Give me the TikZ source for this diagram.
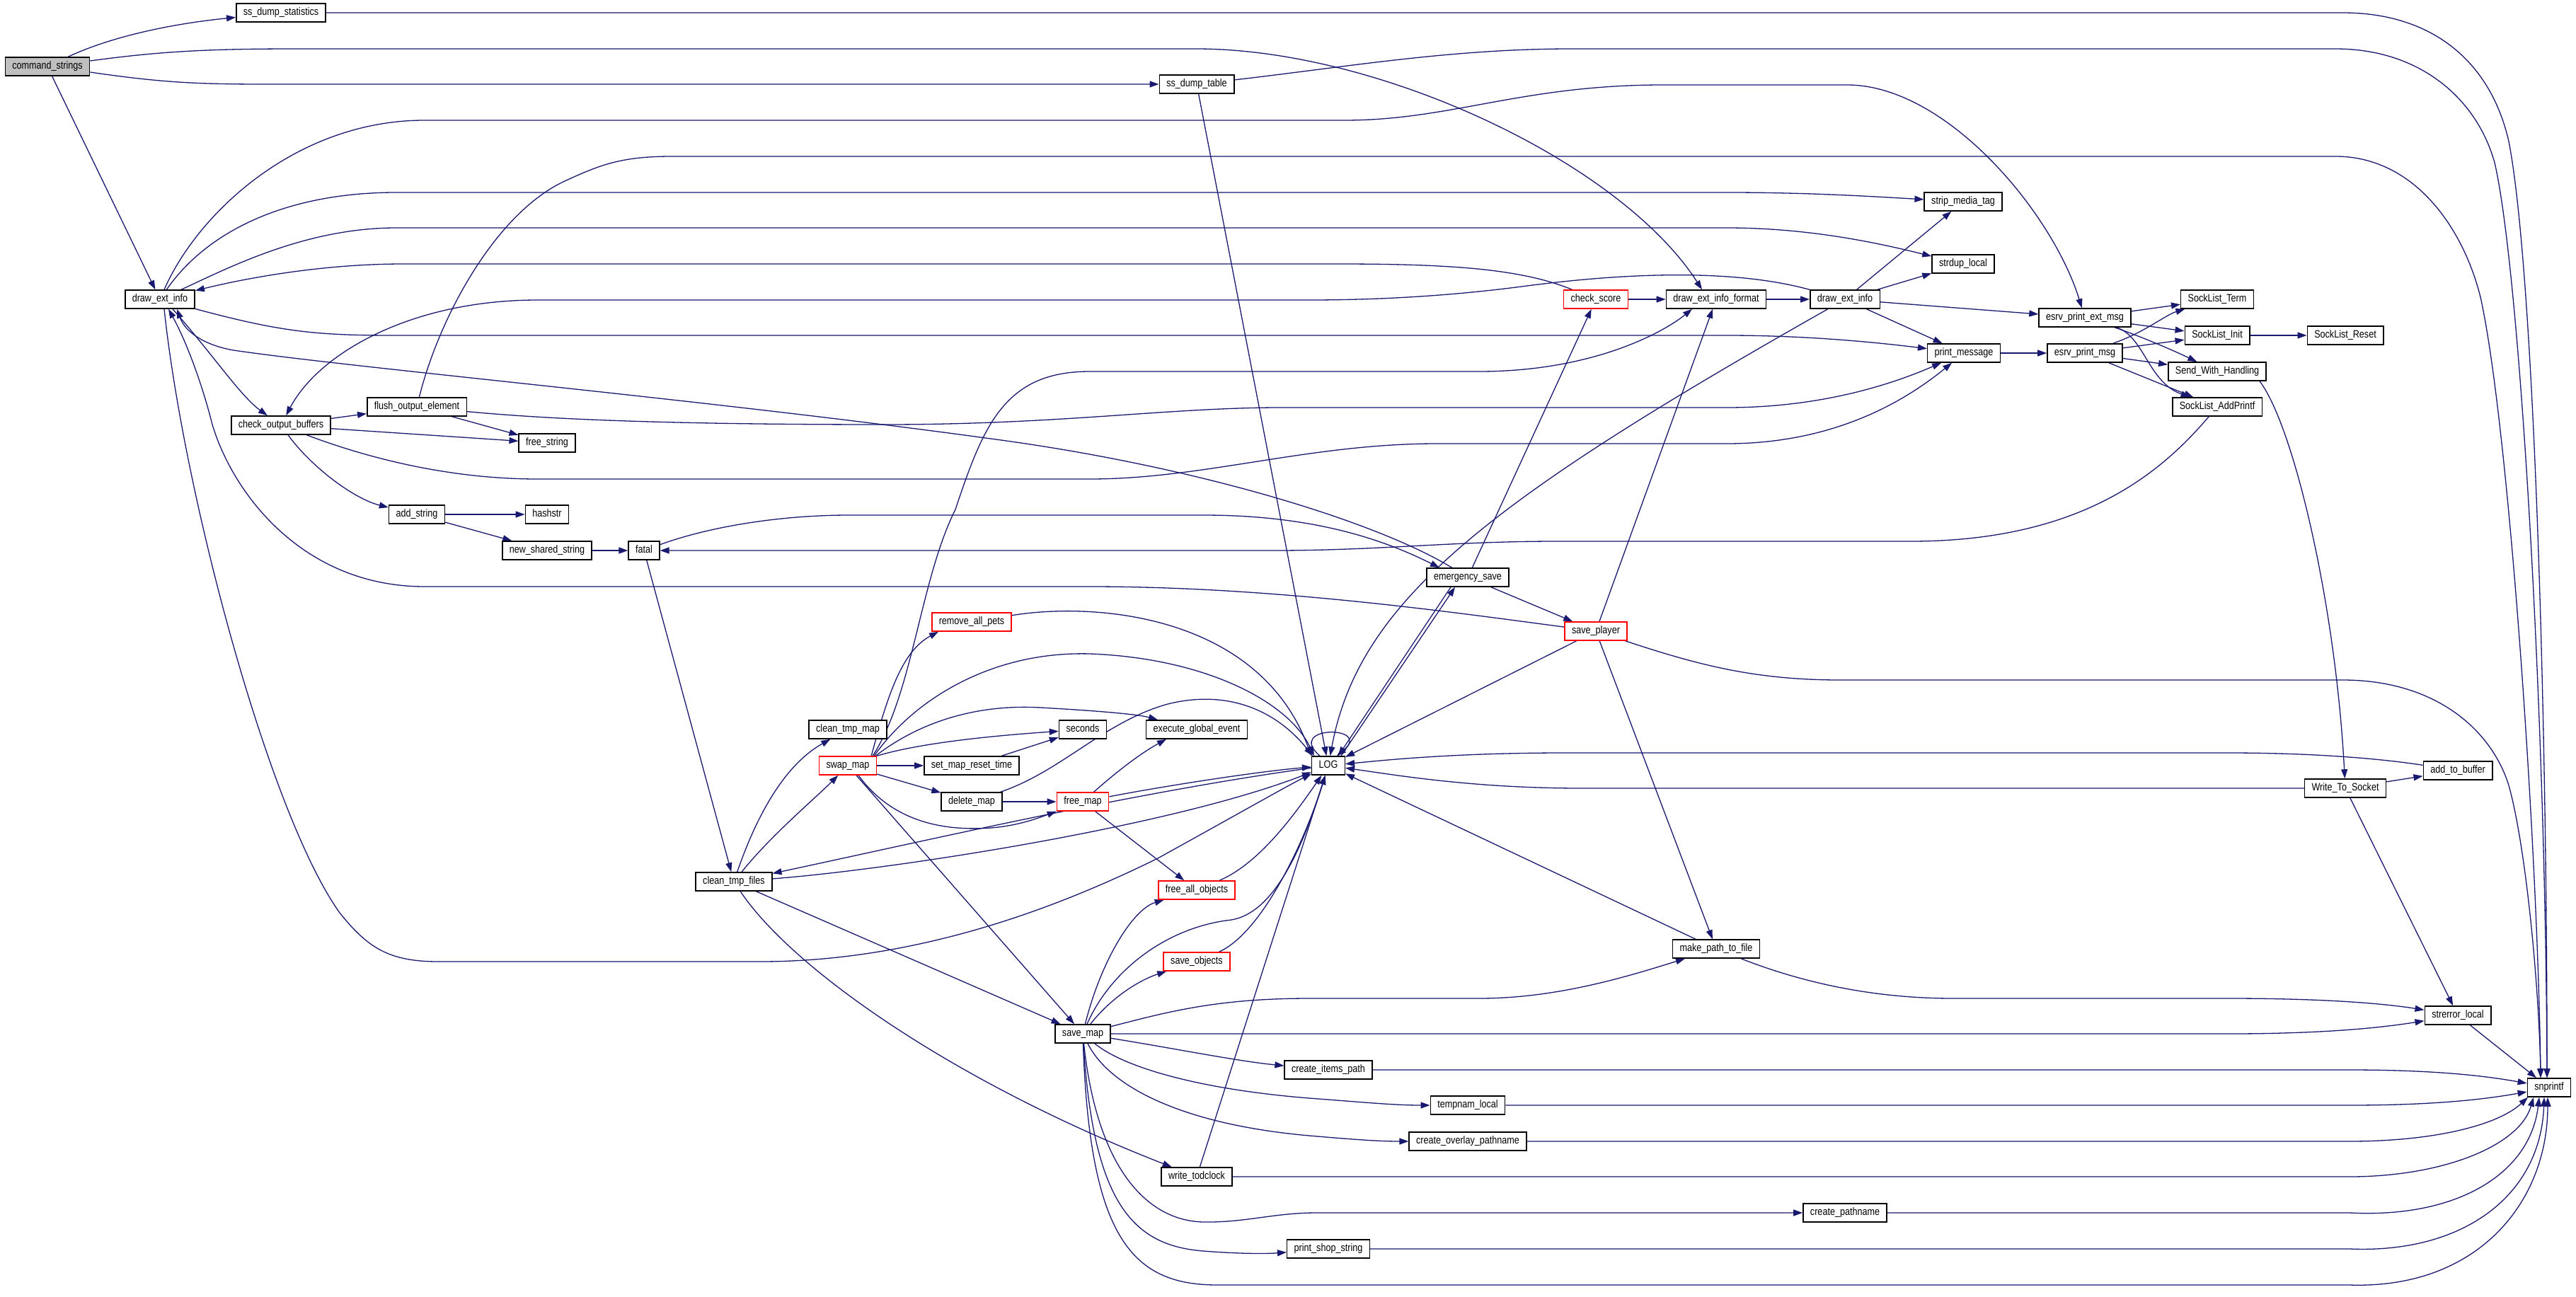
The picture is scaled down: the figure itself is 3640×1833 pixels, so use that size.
\documentclass[tikz,border=0pt]{standalone}
\usepackage{fontspec}
\setmainfont{Liberation Sans}[FakeStretch=0.84]
\usetikzlibrary{arrows.meta}
\definecolor{edgec}{HTML}{191970}
\definecolor{grayf}{HTML}{BFBFBF}
\pgfdeclarelayer{back}
\pgfdeclarelayer{bg}
\pgfsetlayers{back,bg,main}
\tikzset{
  fn/.style={draw=black, line width=1.5pt, fill=white, font=\fontsize{15}{18}\selectfont,
    inner xsep=10pt, inner ysep=0pt, minimum height=26pt, text height=11pt, text depth=3.5pt},
  fnr/.style={fn, draw=red},
  fng/.style={fn, fill=grayf},
  e/.style={draw=edgec, line width=1.3pt, -{Triangle[length=13pt,width=9pt]}},
}
\begin{document}
\begin{tikzpicture}[x=1pt,y=-1pt]
\useasboundingbox (0,0) rectangle (3640,1833);
\begin{pgfonlayer}{back}
\fill[white] (0,0) rectangle (3640,1833);
\end{pgfonlayer}
% nodes
\node[fng] (cs) at (67,94) {command\_strings};
\node[fn] (sds) at (397,18) {ss\_dump\_statistics};
\node[fn] (dei) at (226,423) {draw\_ext\_info};
\node[fn] (cob) at (397,601) {check\_output\_buffers};
\node[fn] (foe) at (589,575) {flush\_output\_element};
\node[fn] (fs) at (773,626) {free\_string};
\node[fn] (as) at (589,727) {add\_string};
\node[fn] (hs) at (773,727) {hashstr};
\node[fn] (nss) at (773,778) {new\_shared\_string};
\node[fn] (fat) at (910,778) {fatal};
\node[fn] (ctf) at (1037,1246) {clean\_tmp\_files};
\node[fn] (ctm) at (1198,1031) {clean\_tmp\_map};
\node[fnr] (sw) at (1198,1082) {swap\_map};
\node[fnr] (rap) at (1373,879) {remove\_all\_pets};
\node[fn] (smrt) at (1373,1082) {set\_map\_reset\_time};
\node[fn] (dm) at (1373,1133) {delete\_map};
\node[fn] (sec) at (1530,1031) {seconds};
\node[fnr] (fm) at (1530,1133) {free\_map};
\node[fn] (sm) at (1530,1461) {save\_map};
\node[fn] (sdt) at (1691,119) {ss\_dump\_table};
\node[fn] (ege) at (1691,1031) {execute\_global\_event};
\node[fnr] (fao) at (1691,1258) {free\_all\_objects};
\node[fnr] (so) at (1691,1359) {save\_objects};
\node[fn] (wt) at (1691,1663) {write\_todclock};
\node[fn] (log) at (1877,1082) {LOG};
\node[fn] (cip) at (1877,1512) {create\_items\_path};
\node[fn] (pss) at (1877,1765) {print\_shop\_string};
\node[fn] (es) at (2074,816) {emergency\_save};
\node[fn] (tl) at (2074,1562) {tempnam\_local};
\node[fn] (cop) at (2074,1613) {create\_overlay\_pathname};
\node[fnr] (csc) at (2255,423) {check\_score};
\node[fnr] (sp) at (2255,892) {save\_player};
\node[fn] (deif) at (2425,423) {draw\_ext\_info\_format};
\node[fn] (mptf) at (2425,1341) {make\_path\_to\_file};
\node[fn] (deir) at (2607,423) {draw\_ext\_info};
\node[fn] (cp) at (2607,1714) {create\_pathname};
\node[fn] (smt) at (2774,285) {strip\_media\_tag};
\node[fn] (sdl) at (2774,373) {strdup\_local};
\node[fn] (pm) at (2775,499) {print\_message};
\node[fn] (epem) at (2946,449) {esrv\_print\_ext\_msg};
\node[fn] (epm) at (2946,499) {esrv\_print\_msg};
\node[fn] (slt) at (3133,423) {SockList\_Term};
\node[fn] (sli) at (3133,474) {SockList\_Init};
\node[fn] (swh) at (3133,525) {Send\_With\_Handling};
\node[fn] (slap) at (3133,575) {SockList\_AddPrintf};
\node[fn] (slr) at (3314,474) {SockList\_Reset};
\node[fn] (wts) at (3314,1114) {Write\_To\_Socket};
\node[fn] (atb) at (3473,1089) {add\_to\_buffer};
\node[fn] (sel) at (3473,1435) {strerror\_local};
\node[fn] (snp) at (3602,1537) {snprintf};
\begin{pgfonlayer}{bg}
% command_strings
\draw[e] (cs) .. controls (150,55) and (230,35) .. (sds);
\draw[e] ([yshift=-8pt]cs.east) .. controls (250,120) and (300,119) .. (420,119) -- (sdt);
\draw[e] ([yshift=8pt]cs.east) .. controls (230,72) and (300,69) .. (420,69) -- (1690,69) .. controls (1950,69) and (2290,230) .. ([xshift=-20pt]deif.north);
\draw[e] (cs) -- (dei);
% ss_dump_statistics / ss_dump_table
\draw[e] (sds) -- (3310,18) .. controls (3440,18) and (3520,90) .. (3545,200) .. controls (3580,380) and (3599,1000) .. ([xshift=-3pt]snp.north);
\draw[e] (sdt) .. controls (1900,95) and (2050,69) .. (2220,69) -- (3300,69) .. controls (3420,69) and (3500,140) .. (3525,230) .. controls (3560,380) and (3597,1000) .. ([xshift=-3pt]snp.north);
\draw[e] (sdt) -- (log);
% draw_ext_info (left)
\draw[e] (dei) .. controls (280,300) and (420,170) .. (600,170) -- (1900,170) .. controls (2050,170) and (2150,120) .. (2350,120) -- (2610,120) .. controls (2750,120) and (2900,300) .. (epem);
\draw[e] (dei) .. controls (290,330) and (400,272) .. (560,272) -- (2440,272) .. controls (2560,272) and (2650,278) .. (smt);
\draw[e] (dei) .. controls (320,380) and (430,322) .. (560,322) -- (2440,322) .. controls (2560,322) and (2660,345) .. (sdl);
\draw[e] (dei) .. controls (400,470) and (450,474) .. (560,474) -- (2440,474) .. controls (2560,474) and (2660,485) .. (pm);
\draw[e] ([xshift=18pt]dei.south) .. controls (300,500) and (340,560) .. (cob);
\draw[e] ([xshift=6pt]dei.south) .. controls (260,700) and (380,1150) .. (480,1290) .. controls (520,1340) and (550,1359) .. (620,1359) -- (1074,1359) .. controls (1300,1359) and (1500,1280) .. (1636,1213) .. controls (1750,1150) and (1820,1110) .. (log);
% check_score, draw_ext_info_format
\draw[e] (csc) .. controls (2150,380) and (2050,373) .. (1890,373) -- (570,373) .. controls (450,373) and (340,395) .. (dei);
\draw[e] (csc) -- (deif);
\draw[e] (deif) -- (deir);
% draw_ext_info (right)
\draw[e] (deir) .. controls (2450,380) and (2300,385) .. (2150,405) .. controls (2050,418) and (1950,424) .. (1850,424) -- (760,424) .. controls (580,424) and (450,500) .. (cob);
\draw[e] (deir) -- (smt);
\draw[e] (deir) -- (sdl);
\draw[e] (deir) -- (epem);
\draw[e] (deir) -- (pm);
\draw[e] (deir) .. controls (2100,710) and (1920,850) .. (log);
% check_output_buffers
\draw[e] (cob) -- (foe);
\draw[e] (cob) -- (fs);
\draw[e] (cob) .. controls (440,660) and (500,705) .. (as);
\draw[e] (cob) .. controls (500,640) and (620,677) .. (760,677) -- (1540,677) .. controls (1700,677) and (1850,627) .. (2030,627) -- (2440,627) .. controls (2600,627) and (2700,560) .. (pm);
% flush_output_element
\draw[e] (foe) -- (fs);
\draw[e] (foe) .. controls (750,590) and (900,600) .. (1250,600) .. controls (1500,600) and (1650,576) .. (1810,576) -- (2440,576) .. controls (2580,576) and (2680,540) .. (pm);
\draw[e] (foe) .. controls (620,450) and (700,300) .. (800,255) .. controls (850,232) and (880,221) .. (950,221) -- (3300,221) .. controls (3410,221) and (3480,320) .. (3505,420) .. controls (3545,600) and (3586,1200) .. ([xshift=-12pt]snp.north);
% add_string, new_shared_string
\draw[e] (as) -- (hs);
\draw[e] (as) -- (nss);
\draw[e] (nss) -- (fat);
% fatal
\draw[e] (fat) .. controls (1000,745) and (1100,728) .. (1200,728) -- (1700,728) .. controls (1850,728) and (1950,760) .. ([xshift=-40pt]es.north);
\draw[e] (fat) -- (ctf);
\draw[e] (slap) .. controls (3060,660) and (2950,765) .. (2700,765) -- (2200,765) .. controls (2050,765) and (1950,778) .. (1800,778) -- (fat);
% emergency_save
\draw[e] (es) .. controls (1950,740) and (1700,660) .. (1400,620) .. controls (1000,565) and (500,520) .. (330,495) .. controls (290,488) and (262,470) .. ([xshift=24pt]dei.south);
\draw[e] (es) -- (sp);
\draw[e] (es) -- (csc);
\draw[e] ([xshift=-24pt]es.south) -- ([xshift=14pt]log.north);
\draw[e] ([xshift=18pt]log.north) -- ([xshift=-18pt]es.south);
% save_player
\draw[e] (sp) .. controls (2050,865) and (1800,829) .. (1540,829) -- (600,829) .. controls (430,829) and (330,700) .. (300,600) .. controls (285,540) and (262,480) .. ([xshift=12pt]dei.south);
\draw[e] (sp) -- (deif);
\draw[e] (sp) -- (log);
\draw[e] (sp) -- (mptf);
\draw[e] (sp) .. controls (2400,940) and (2480,961) .. (2600,961) -- (3310,961) .. controls (3440,961) and (3520,1030) .. (3545,1110) .. controls (3570,1200) and (3588,1400) .. ([xshift=-12pt]snp.north);
% make_path_to_file
\draw[e] (mptf) -- (log);
\draw[e] (mptf) .. controls (2550,1390) and (2650,1411) .. (2760,1411) -- (3150,1411) .. controls (3300,1411) and (3380,1420) .. (sel);
% clean_tmp_files
\draw[e] (ctf) .. controls (1070,1150) and (1110,1080) .. (ctm);
\draw[e] (ctf) .. controls (1090,1180) and (1150,1130) .. (sw);
\draw[e] (ctf) -- (sm);
\draw[e] (ctf) .. controls (1120,1370) and (1350,1530) .. (wt);
\draw[e] (ctf) .. controls (1250,1230) and (1650,1170) .. (log);
\draw[e] (log) .. controls (1600,1120) and (1300,1190) .. (ctf);
% swap_map
\draw[e] ([xshift=-8pt]sw.north east) .. controls (1255,980) and (1275,920) .. ([xshift=10pt]rap.south west);
\draw[e] ([xshift=-6pt]sw.north east) .. controls (1290,980) and (1300,820) .. (1350,720) .. controls (1390,600) and (1420,525) .. (1540,525) -- (2090,525) .. controls (2250,525) and (2350,470) .. ([xshift=-34pt]deif.south);
\draw[e] ([xshift=-4pt]sw.north east) .. controls (1290,990) and (1400,920) .. (1540,924) .. controls (1700,930) and (1820,990) .. ([xshift=-20pt]log.north);
\draw[e] ([xshift=-2pt]sw.north east) .. controls (1300,1020) and (1380,995) .. (1470,1000) .. controls (1560,1005) and (1610,1010) .. ([xshift=-55pt]ege.north);
\draw[e] (sw.north east) .. controls (1300,1050) and (1400,1040) .. (sec);
\draw[e] (sw) -- (smrt);
\draw[e] (sw) -- (dm);
\draw[e] ([xshift=15pt]sw.south) .. controls (1260,1160) and (1330,1175) .. (1400,1170) .. controls (1440,1167) and (1470,1155) .. (fm);
\draw[e] (sw) -- (sm);
% set_map_reset_time, delete_map, free_map, remove_all_pets
\draw[e] (smrt) -- (sec);
\draw[e] (dm) -- (fm);
\draw[e] (dm) .. controls (1500,1090) and (1560,1020) .. (1650,995) .. controls (1730,975) and (1800,1000) .. ([xshift=-22pt]log.north);
\draw[e] (fm) .. controls (1590,1080) and (1620,1060) .. ([xshift=-43pt]ege.south);
\draw[e] (fm) .. controls (1650,1110) and (1780,1090) .. (log);
\draw[e] (fm) -- (fao);
\draw[e] (rap) .. controls (1550,850) and (1780,870) .. ([xshift=-24pt]log.north);
% free_all_objects, save_objects, save_map, write_todclock
\draw[e] (fao) .. controls (1780,1220) and (1830,1150) .. (log);
\draw[e] (so) .. controls (1780,1320) and (1840,1200) .. (log);
\draw[e] (sm) .. controls (1555,1360) and (1600,1285) .. (fao);
\draw[e] (sm) .. controls (1570,1410) and (1610,1385) .. (so);
\draw[e] (sm) .. controls (1570,1370) and (1650,1310) .. (1740,1300) .. controls (1800,1290) and (1840,1200) .. (log);
\draw[e] (wt) -- (log);
\draw[e] (sm) -- (3150,1461) .. controls (3300,1461) and (3380,1450) .. (sel);
\draw[e] (sm) .. controls (1650,1430) and (1720,1411) .. (1850,1411) -- (2090,1411) .. controls (2200,1411) and (2300,1380) .. (mptf);
\draw[e] (sm) .. controls (1650,1480) and (1750,1500) .. (cip);
\draw[e] (sm) .. controls (1590,1510) and (1700,1540) .. (1850,1552) .. controls (1930,1558) and (1970,1562) .. (tl);
\draw[e] (sm) .. controls (1570,1540) and (1680,1590) .. (1850,1605) .. controls (1920,1611) and (1950,1613) .. (cop);
\draw[e] (sm) .. controls (1550,1650) and (1620,1725) .. (1700,1727) .. controls (1760,1728) and (1800,1714) .. (1860,1714) -- (cp);
\draw[e] (sm) .. controls (1545,1700) and (1600,1760) .. (1700,1768) .. controls (1750,1772) and (1790,1772) .. (pss);
\draw[e] (sm) .. controls (1540,1750) and (1600,1816) .. (1720,1816) -- (3320,1816) .. controls (3500,1822) and (3600,1700) .. ([xshift=-2pt]snp.south);
% to snprintf
\draw[e] (cip) -- (3320,1512) .. controls (3450,1512) and (3520,1522) .. ([yshift=6pt]snp.west);
\draw[e] (tl) -- (3320,1562) .. controls (3450,1562) and (3520,1552) .. ([yshift=-6pt]snp.west);
\draw[e] (cop) -- (3320,1613) .. controls (3440,1613) and (3530,1590) .. ([xshift=-30pt]snp.south);
\draw[e] (wt) -- (3320,1663) .. controls (3450,1663) and (3560,1620) .. ([xshift=-22pt]snp.south);
\draw[e] (cp) -- (3320,1714) .. controls (3470,1722) and (3575,1660) .. ([xshift=-14pt]snp.south);
\draw[e] (pss) -- (3320,1765) .. controls (3480,1772) and (3590,1690) .. ([xshift=-7pt]snp.south);
% esrv and socket
\draw[e] (pm) -- (epm);
\draw[e] (epem) -- (slt);
\draw[e] (epem) -- (sli);
\draw[e] (epem) .. controls (3010,470) and (3060,490) .. (swh);
\draw[e] (epem) .. controls (3030,475) and (3035,540) .. (slap);
\draw[e] (epm) .. controls (3030,470) and (3060,445) .. (slt);
\draw[e] (epm) -- (sli);
\draw[e] (epm) -- (swh);
\draw[e] (epm) -- (slap);
\draw[e] (sli) -- (slr);
\draw[e] ([xshift=-10pt]swh.south east) .. controls (3240,600) and (3300,850) .. (wts);
\draw[e] (wts) -- (atb);
\draw[e] (wts) -- (sel);
\draw[e] (wts) -- (2235,1114) .. controls (2080,1114) and (1970,1095) .. (log);
\draw[e] (atb) .. controls (3350,1070) and (3250,1064) .. (3150,1064) -- (2210,1064) .. controls (2050,1064) and (1950,1075) .. (log);
\draw[e] (sel) -- ([xshift=-18pt]snp.north);
% LOG self loop
\draw[e] ([xshift=-12pt]log.north) .. controls (1815,1025) and (1940,1025) .. ([xshift=12pt]log.north);
\end{pgfonlayer}
\end{tikzpicture}
\end{document}
